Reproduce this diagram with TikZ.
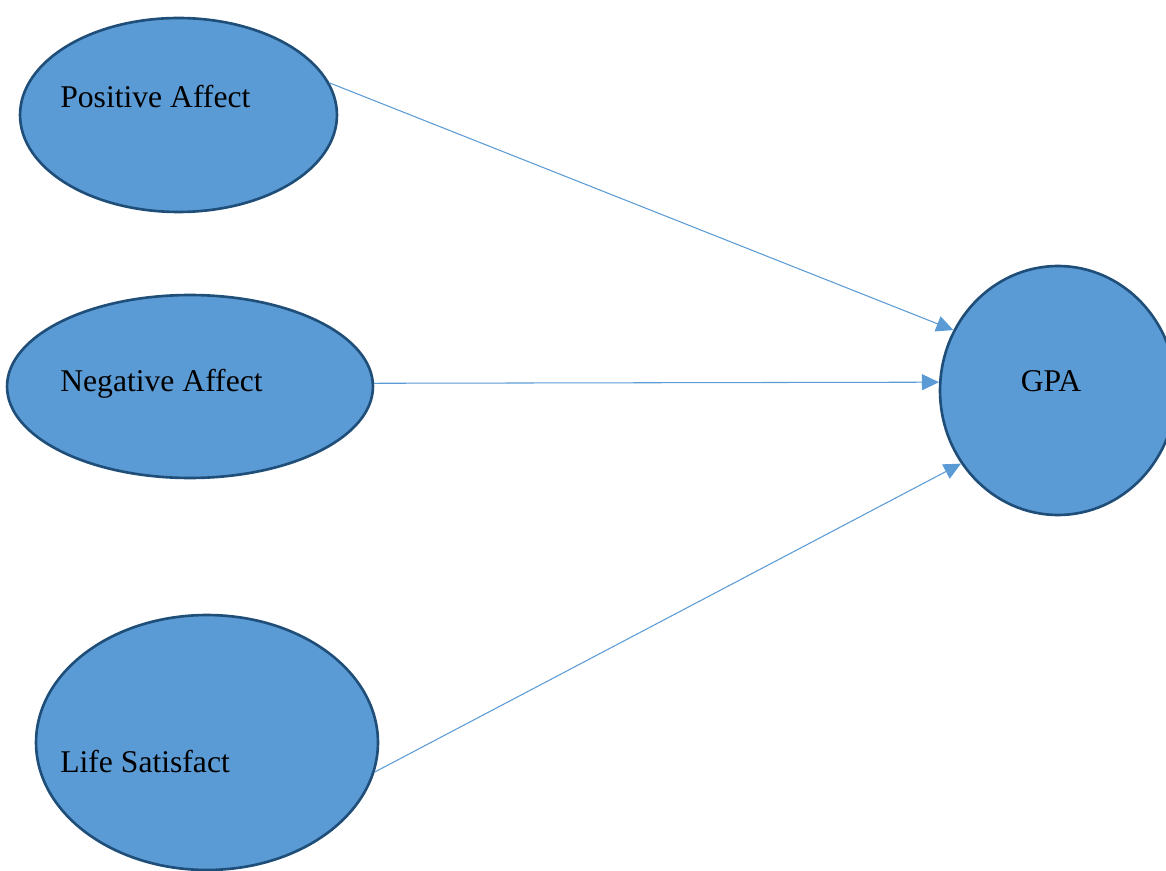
\documentclass[tikz,border=0pt]{standalone}
\definecolor{mFillBlue}{HTML}{5B9BD5}
\definecolor{mEdgeBlue}{HTML}{1F4E79}
\definecolor{mLineBlue}{HTML}{5B9BD5}
\usepackage{fontspec}
\setmainfont{Liberation Serif}
\usepackage{tikz}
\usetikzlibrary{positioning,arrows.meta,shapes.geometric}

\begin{document}
\begin{tikzpicture}[x=0.02cm, y=-0.02cm, font=\fontsize{18}{20}\selectfont,
  latent/.style={ellipse, draw=mEdgeBlue, line width=1.5pt, fill=mFillBlue, inner sep=0pt},
  path/.style={-{Triangle[length=0.34cm,width=0.32cm]}, mLineBlue, line width=0.6pt},
  tag/.style={anchor=base west, inner sep=0pt}]
\useasboundingbox (0,0) rectangle (1166,871);
\node[latent, minimum width=6.34cm, minimum height=3.88cm] (pa) at (178.5,115) {};
\node[latent, minimum width=7.32cm, minimum height=3.66cm] (na) at (190,386.5) {};
\node[latent, minimum width=6.84cm, minimum height=5.10cm] (ls) at (207,742.5) {};
\node[latent, minimum width=4.72cm, minimum height=4.98cm] (gpa) at (1058,390.5) {};
\node[tag] (pa-text) at (60,108) {Positive Affect};
\node[tag] (na-text) at (60,392) {Negative Affect};
\node[tag] (ls-text) at (60,772) {Life Satisfact};
\node[tag, anchor=base] (gpa-text) at (1051,392) {GPA};
\draw[path] (pa.12) -- (gpa.150);
\draw[path] (na.1) -- (gpa.176);
\draw[path] (ls.-10) -- (gpa.217);
\end{tikzpicture}
\end{document}
